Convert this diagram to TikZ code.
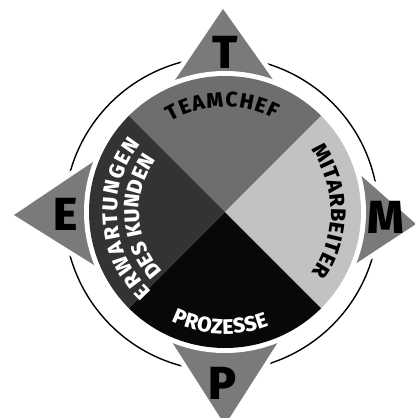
\documentclass[tikz,border=0pt]{standalone}
\usepackage{fontspec}
\setmainfont{Fira Sans}[BoldFont={Fira Sans ExtraBold}]
\usetikzlibrary{calc,decorations.text}
\definecolor{teamgrau}{gray}{0.43}
\definecolor{mitarbeitergrau}{gray}{0.76}
\definecolor{kundengrau}{gray}{0.2}
\definecolor{prozessschwarz}{gray}{0.03}
\definecolor{sterngrau}{gray}{0.48}
\newcommand{\bandschrift}{\fontsize{15}{15}\selectfont\bfseries}
\tikzset{
  ring/.style={draw=black,line width=1pt},
  sternrand/.style={draw=white,line width=0.25cm,line join=miter},
  sternfeld/.style={fill=sterngrau},
  buchstabe/.style={font=\fontsize{33}{33}\selectfont\bfseries,text=black,inner sep=0pt},
  bogentext/.style 2 args={decorate,decoration={text along path,text={|\bandschrift|#2},text color=#1,text align=fit to path}},
}
\begin{document}
\begin{tikzpicture}[x=0.025cm,y=0.025cm]
\useasboundingbox (-225,-206) rectangle (189,212);
\coordinate (m) at (0,0);
\coordinate (ringmitte) at (-3.5,-2);
\coordinate (sN) at (-2,203);
\coordinate (sO) at (191,-12);
\coordinate (sS) at (0,-213);
\coordinate (sW) at (-211,-3);
\coordinate (iNO) at (83,83);
\coordinate (iSO) at (83,-83);
\coordinate (iSW) at (-83,-83);
\coordinate (iNW) at (-83,83);
% Ring und Stern
\draw[ring] (ringmitte) circle[radius=157];
\draw[sternrand] (sN) -- (iNO) -- (sO) -- (iSO) -- (sS) -- (iSW) -- (sW) -- (iNW) -- cycle;
\fill[sternfeld] (sN) -- (iNO) -- (sO) -- (iSO) -- (sS) -- (iSW) -- (sW) -- (iNW) -- cycle;
% Scheibe
\fill[white] (m) circle[radius=141];
\fill[teamgrau] (m) -- (45:136) arc[start angle=45,end angle=135,radius=136] -- cycle;
\fill[kundengrau] (m) -- (135:136) arc[start angle=135,end angle=225,radius=136] -- cycle;
\fill[prozessschwarz] (m) -- (225:136) arc[start angle=225,end angle=315,radius=136] -- cycle;
\fill[mitarbeitergrau] (m) -- (315:136) arc[start angle=315,end angle=405,radius=136] -- cycle;
% Buchstaben
\node[buchstabe] (T) at (0,160) {T};
\node[buchstabe] (E) at (-159,-2) {E};
\node[buchstabe] (M) at (161,-5) {M};
\node[buchstabe] (P) at (-2,-171) {P};
% Beschriftung
\path[bogentext={black}{TEAMCHEF}] (121:105) arc[start angle=121,end angle=62,radius=105];
\path[bogentext={black}{MITARBEITER}] (36:106) arc[start angle=36,end angle=-35,radius=106];
\path[bogentext={white}{ERWARTUNGEN}] (227:108) arc[start angle=227,end angle=141,radius=108];
\path[bogentext={white}{DES KUNDEN}] (224:86) arc[start angle=224,end angle=143,radius=86];
\path[bogentext={white}{PROZESSE}] (244:122) arc[start angle=244,end angle=291,radius=122];
\end{tikzpicture}
\end{document}
